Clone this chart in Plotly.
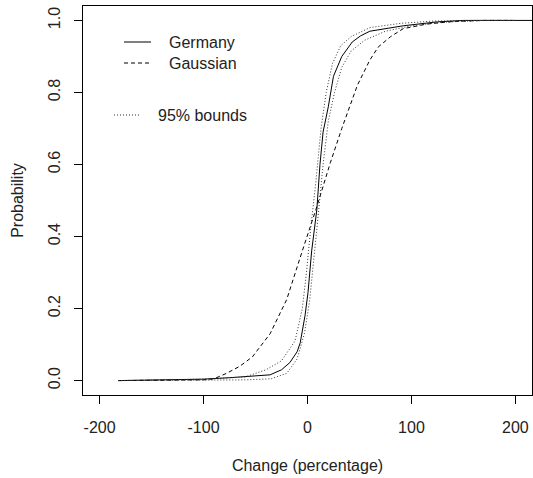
import plotly.graph_objects as go

# Empirical distribution of annual change (Germany)
germany_x = [-182, -150, -100, -75, -50, -36, -25, -17, -10, -7, -2.4, 0.5, 4, 9, 12,
             15, 20, 25, 33, 43, 51, 60, 92, 125, 150, 230]
germany_p = [0.0, 0.001, 0.004, 0.008, 0.012, 0.016, 0.03, 0.05, 0.08, 0.105, 0.18, 0.245,
             0.36, 0.475, 0.6, 0.69, 0.76, 0.845, 0.90, 0.94, 0.957, 0.97, 0.985, 0.996, 1.0, 1.0]

# Fitted Gaussian distribution
gauss_x = [-182, -120, -100, -90, -78, -65, -53, -36, -20, -5, 9, 22, 33, 48, 60, 68,
           80, 92, 115, 140, 170, 197]
gauss_p = [0.0, 0.0005, 0.002, 0.005, 0.02, 0.04, 0.066, 0.13, 0.225, 0.36, 0.483, 0.605,
           0.70, 0.82, 0.89, 0.926, 0.955, 0.977, 0.99, 0.997, 1.0, 1.0]

# 95% confidence bounds around the empirical curve
upper_x = [-182, -100, -60, -40, -25, -12, -5, -1, 3, 8, 13, 18, 24, 32, 42, 60, 90, 120, 160, 200]
upper_p = [0.0, 0.004, 0.01, 0.03, 0.055, 0.11, 0.2, 0.3, 0.42, 0.55, 0.7, 0.8, 0.88, 0.93,
           0.955, 0.98, 0.992, 0.998, 1.0, 1.0]
lower_x = [-182, -100, -60, -35, -20, -10, -3, 2, 6, 10, 15, 20, 26, 33, 42, 55, 75, 100, 130, 170, 200]
lower_p = [0.0, 0.0, 0.002, 0.005, 0.02, 0.06, 0.13, 0.22, 0.33, 0.45, 0.6, 0.72, 0.8, 0.87,
           0.915, 0.945, 0.97, 0.985, 0.995, 1.0, 1.0]

x_ticks = [-200, -100, 0, 100, 200]
x_tick_text = ["-200", "-100", "0", "100", "200"]
y_ticks = [0.0, 0.2, 0.4, 0.6, 0.8, 1.0]
y_tick_text = ["0.0", "0.2", "0.4", "0.6", "0.8", "1.0"]

FONT = "Liberation Sans, Arial, sans-serif"
TXT = "#222222"
SOLID = dict(color="black", width=1)
DASHED = dict(color="black", width=1, dash="4px,3px")
DOTTED = dict(color="#333333", width=1, dash="1px,2px")

fig = go.Figure()
fig.add_trace(go.Scatter(x=germany_x, y=germany_p, mode="lines", name="Germany", line=SOLID))
fig.add_trace(go.Scatter(x=gauss_x, y=gauss_p, mode="lines", name="Gaussian", line=DASHED))
fig.add_trace(go.Scatter(x=upper_x, y=upper_p, mode="lines", name="95% bounds (upper)", line=DOTTED))
fig.add_trace(go.Scatter(x=lower_x, y=lower_p, mode="lines", name="95% bounds (lower)", line=DOTTED))

axis_common = dict(showline=True, linecolor="black", linewidth=1, mirror=True,
                   showgrid=False, zeroline=False, ticks="outside", ticklen=8,
                   tickcolor="black", tickwidth=1,
                   tickfont=dict(family=FONT, size=16, color=TXT))

fig.update_xaxes(range=[-216, 216], tickvals=x_ticks, ticktext=x_tick_text, ticklabelstandoff=10,
                 title=dict(text="Change (percentage)", standoff=24,
                            font=dict(family=FONT, size=16, color=TXT)),
                 **axis_common)
fig.update_yaxes(range=[-0.04, 1.04], tickvals=y_ticks, ticktext=y_tick_text, tickangle=-90,
                 ticklabelstandoff=8,
                 title=dict(text="Probability", standoff=17,
                            font=dict(family=FONT, size=16, color=TXT)),
                 **axis_common)

# Legend drawn in paper coordinates: line sample followed by its label
PLOT_L, PLOT_T, PLOT_W, PLOT_H = 83, 6, 449, 389
def px_x(px):
    return (px - PLOT_L) / PLOT_W
def px_y(py):
    return 1 - (py - PLOT_T) / PLOT_H

legend_items = [
    ("Germany", SOLID, 124, 151, 167, 42),
    ("Gaussian", DASHED, 124, 151, 167, 63),
    ("95% bounds", DOTTED, 114, 141, 156, 115),
]
for label, style, x0, x1, tx, ty in legend_items:
    fig.add_shape(type="line", xref="paper", yref="paper",
                  x0=px_x(x0), x1=px_x(x1), y0=px_y(ty), y1=px_y(ty), line=style)
    fig.add_annotation(xref="paper", yref="paper", x=px_x(tx), y=px_y(ty),
                       text=label, showarrow=False, xanchor="left", yanchor="middle",
                       font=dict(family=FONT, size=16, color=TXT))

fig.update_layout(
    width=533, height=478,
    margin=dict(l=83, r=1, t=6, b=83),
    paper_bgcolor="white", plot_bgcolor="white",
    font=dict(family=FONT, size=16, color=TXT),
    showlegend=False,
)

fig.write_html("out.html")
